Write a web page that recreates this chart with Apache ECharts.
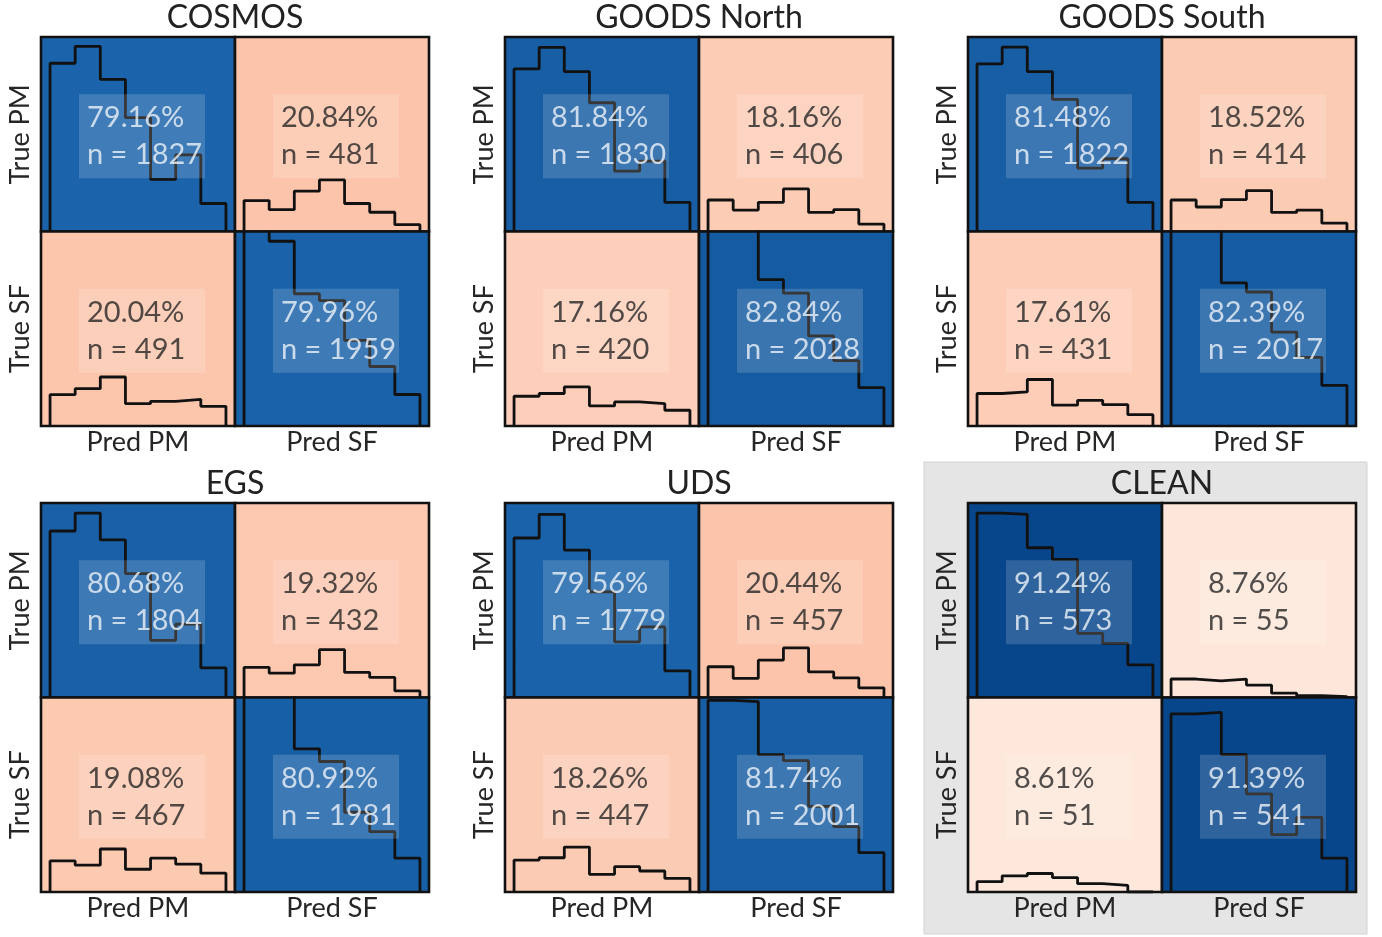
<!DOCTYPE html>
<html>
<head>
<meta charset="utf-8">
<script src="https://cdn.jsdelivr.net/npm/echarts@6/dist/echarts.min.js"></script>
<style>
html,body{margin:0;padding:0;background:#ffffff;}
#chart{width:1382px;height:937px;}
</style>
</head>
<body>
<div id="chart"></div>
<script>
// ---- data ----
const panelNames = ['COSMOS', 'GOODS North', 'GOODS South', 'EGS', 'UDS', 'CLEAN'];
const rowLabels = ['True PM', 'True SF'];
const colLabels = ['Pred PM', 'Pred SF'];
// cell order: [TruePM/PredPM, TruePM/PredSF, TrueSF/PredPM, TrueSF/PredSF]
const pctCOSMOS = [79.16, 20.84, 20.04, 79.96];
const nCOSMOS = [1827, 481, 491, 1959];
const pctGOODSN = [81.84, 18.16, 17.16, 82.84];
const nGOODSN = [1830, 406, 420, 2028];
const pctGOODSS = [81.48, 18.52, 17.61, 82.39];
const nGOODSS = [1822, 414, 431, 2017];
const pctEGS = [80.68, 19.32, 19.08, 80.92];
const nEGS = [1804, 432, 467, 1981];
const pctUDS = [79.56, 20.44, 18.26, 81.74];
const nUDS = [1779, 457, 447, 2001];
const pctCLEAN = [91.24, 8.76, 8.61, 91.39];
const nCLEAN = [573, 55, 51, 541];

// 7-bin step histograms inside each cell (height in % of the cell height; >100 runs off the top)
const histCOSMOS = [
  [86.5, 95.2, 78.2, 58.5, 26.8, 39.4, 14.4],
  [15.9, 11.2, 20.8, 26.5, 14.4, 9.9, 3.5],
  [16.1, 19.2, 25.2, 11.5, 12.7, 13.7, 10.1],
  [110, 95.0, 68.0, 64.5, 44.0, 30.6, 16.2]
];
const histGOODSN = [
  [83.6, 94.7, 82.2, 66.2, 31.0, 36.2, 15.0],
  [16.2, 11.0, 15.0, 21.9, 9.8, 11.2, 3.8],
  [15.3, 16.7, 20.1, 10.3, 12.4, 11.5, 8.1],
  [110, 110, 75.3, 68.3, 46.3, 33.6, 19.7]
];
const histGOODSS = [
  [86.2, 94.8, 82.2, 67.9, 32.6, 37.4, 15.0],
  [16.2, 12.6, 16.4, 21.0, 9.8, 11.0, 4.3],
  [16.7, 17.5, 23.9, 10.7, 13.2, 11.0, 5.8],
  [110, 110, 73.6, 68.9, 48.3, 35.3, 20.9]
];
const histEGS = [
  [85.6, 94.8, 81.0, 63.7, 29.4, 37.7, 15.2],
  [15.5, 12.5, 16.8, 24.6, 12.9, 10.3, 3.4],
  [16.0, 13.8, 22.1, 11.7, 17.4, 14.3, 9.7],
  [110, 110, 73.6, 67.1, 41.0, 31.0, 17.4]
];
const histUDS = [
  [82.0, 94.2, 75.8, 54.3, 28.6, 36.3, 13.7],
  [15.8, 9.8, 19.2, 25.5, 13.2, 10.1, 5.0],
  [16.4, 17.6, 23.1, 9.1, 13.0, 10.8, 7.0],
  [98.5, 97.9, 70.6, 67.5, 44.0, 33.6, 20.2]
];
const histCLEAN = [
  [94.8, 94.2, 77.0, 71.0, 33.0, 27.8, 16.8],
  [9.5, 8.6, 9.5, 6.4, 2.2, 0.9, 0.5],
  [5.3, 8.3, 9.5, 7.4, 4.3, 3.4, 0],
  [91.6, 92.4, 70.7, 50.5, 29.5, 38.4, 17.4]
];

const panelPct = [pctCOSMOS, pctGOODSN, pctGOODSS, pctEGS, pctUDS, pctCLEAN];
const panelN = [nCOSMOS, nGOODSN, nGOODSS, nEGS, nUDS, nCLEAN];
const panelHist = [histCOSMOS, histGOODSN, histGOODSS, histEGS, histUDS, histCLEAN];

// ---- layout / style ----
const panelLeft = [41, 505, 968];
const panelTop = [37, 503];
const cellW = 194, cellH = 194.5;
const FONT = 'Lato';

function mix(a, b, t) {
  t = Math.max(0, Math.min(1, t));
  const c = a.map((v, i) => Math.round(v + (b[i] - v) * t));
  return 'rgb(' + c.join(',') + ')';
}
function colorFor(p) {
  if (p < 50) return mix([254, 231, 219], [252, 196, 170], (p - 8.6) / (20.8 - 8.6));
  return mix([27, 100, 171], [8, 70, 139], (p - 79.2) / (91.4 - 79.2));
}
function histPath(h) {
  const pts = [[0, 0]];
  h.forEach((v, i) => { pts.push([i, v]); pts.push([i + 1, v]); });
  pts.push([h.length, 0]);
  return pts;
}

const grids = [], xAxes = [], yAxes = [], series = [], titles = [];
panelNames.forEach((name, p) => {
  const pc = p % 3, pr = Math.floor(p / 3);
  titles.push({
    text: name, left: panelLeft[pc] + cellW, top: pr === 0 ? 2 : 468, textAlign: 'center', padding: 0,
    textStyle: { fontFamily: FONT, fontSize: 32, fontWeight: 'normal', color: '#222' }
  });
  for (let c = 0; c < 4; c++) {
    const r = Math.floor(c / 2), k = c % 2;
    const idx = grids.length;
    const pct = panelPct[p][c];
    grids.push({
      left: panelLeft[pc] + k * cellW, top: panelTop[pr] + r * cellH,
      width: cellW, height: cellH, show: true,
      backgroundColor: colorFor(pct), borderColor: '#111', borderWidth: 2.6
    });
    const axisNameStyle = { fontFamily: FONT, fontSize: 27, color: '#262626' };
    xAxes.push({
      gridIndex: idx, type: 'value', min: -0.36, max: 7.36,
      axisLine: { show: false }, axisTick: { show: false }, axisLabel: { show: false }, splitLine: { show: false },
      name: r === 1 ? colLabels[k] : '', nameLocation: 'middle', nameGap: 3, nameTextStyle: axisNameStyle
    });
    yAxes.push({
      gridIndex: idx, type: 'value', min: 0, max: 100,
      axisLine: { show: false }, axisTick: { show: false }, axisLabel: { show: false }, splitLine: { show: false },
      name: k === 0 ? rowLabels[r] : '', nameLocation: 'middle', nameRotate: 90, nameGap: 7, nameTextStyle: axisNameStyle
    });
    series.push({
      type: 'line', xAxisIndex: idx, yAxisIndex: idx, data: histPath(panelHist[p][c]),
      symbol: 'none', showSymbol: false, silent: true, clip: true, z: 3,
      lineStyle: { color: '#111', width: 2.8 }
    });
    series.push({
      type: 'scatter', xAxisIndex: idx, yAxisIndex: idx, data: [[3.5, 49]],
      symbol: 'circle', symbolSize: 1, itemStyle: { color: 'rgba(0,0,0,0)' }, silent: true, z: 5,
      label: {
        show: true, position: 'inside', offset: [-59, 0], align: 'left',
        formatter: pct.toFixed(2) + '%\nn = ' + panelN[p][c],
        fontFamily: FONT, fontSize: 29, lineHeight: 37,
        color: pct > 50 ? '#eef2f7' : '#262626',
        backgroundColor: 'rgba(255,255,255,0.2)', padding: [5, 8, 5, 8], width: 110
      }
    });
  }
});

const chart = echarts.init(document.getElementById('chart'), null, { renderer: 'canvas' });
chart.setOption({
  animation: false,
  backgroundColor: '#ffffff',
  title: titles,
  graphic: [{
    type: 'rect', z: -10, zlevel: 0, silent: true,
    shape: { x: 924, y: 462, width: 443, height: 472 },
    style: { fill: '#e5e5e5', stroke: '#d2d2d2', lineWidth: 1 }
  }],
  grid: grids, xAxis: xAxes, yAxis: yAxes, series: series
});
</script>
</body>
</html>
